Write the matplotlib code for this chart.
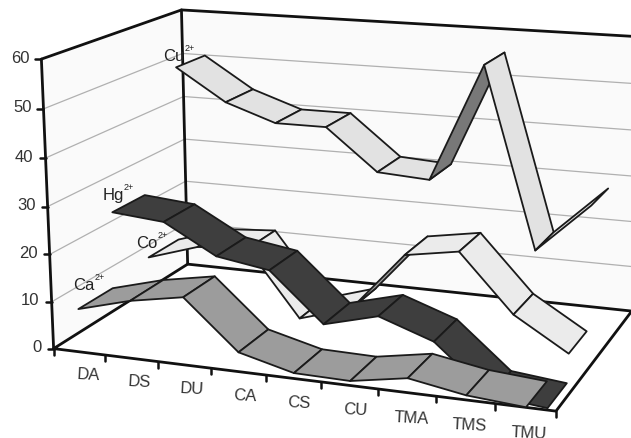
import numpy as np
import matplotlib
matplotlib.use('Agg')
import matplotlib.pyplot as plt
from matplotlib.patches import Polygon

plt.rcParams['font.family'] = ['Liberation Sans', 'DejaVu Sans']

categories = ['DA', 'DS', 'DU', 'CA', 'CS', 'CU', 'TMA', 'TMS', 'TMU']
z_ticks = [0, 10, 20, 30, 40, 50, 60]
ca = [9.0, 12.0, 14.0, 3.9, 1.0, 0.8, 2.8, 0.8, -0.1]
hg = [25.2, 24.2, 18.0, 16.2, 6.0, 9.0, 5.0, -4.8, -6.0]
co = [11.0, 14.5, 15.3, 1.0, 4.5, 17.3, 19.2, 7.0, 0.0]
cu = [50.0, 43.0, 39.2, 39.2, 30.2, 29.5, 55.0, 16.2, 27.0]

series = [
    ('Cu', cu, 3, '#e2e2e2', '#787878', (-28, -5)),
    ('Co', co, 2, '#ebebeb', '#a0a0a0', (-28, -5)),
    ('Hg', hg, 1, '#3e3e3e', '#2a2a2a', (-27, -8)),
    ('Ca', ca, 0, '#9c9c9c', '#707070', (-23, -13)),
]

# perspective camera of the chart box: box corners (category, depth, value) -> pixels
box_refs = [((0, 0, 0), (54, 349)), ((9, 0, 0), (556, 411)), ((0, 4, 0), (187, 264)),
            ((9, 4, 0), (632, 311)), ((0, 0, 60), (41, 59)), ((0, 4, 60), (182, 10)),
            ((9, 4, 60), (641, 37)), ((5, 0, 0), (321, 382)), ((0, 0, 30), (48, 206)),
            ((0, 0, 10), (52, 302)), ((0, 0, 50), (43, 109))]
A, b = [], []
for (x, y, z), (u, v) in box_refs:
    A.append([x, y, z, 1, 0, 0, 0, 0, -u*x, -u*y, -u*z]); b.append(u)
    A.append([0, 0, 0, 0, x, y, z, 1, -v*x, -v*y, -v*z]); b.append(v)
cam = np.append(np.linalg.lstsq(np.array(A, float), np.array(b, float), rcond=None)[0], 1).reshape(3, 4)


def pr(x, y, z):
    h = cam @ np.array([x, y, z, 1.0])
    return h[:2] / h[2]


fig = plt.figure(figsize=(6.31, 4.38), dpi=100)
ax = fig.add_axes([0, 0, 1, 1])
ax.set_xlim(0, 631)
ax.set_ylim(438, 0)
ax.axis('off')

nx, ny, zt = len(categories), 4, z_ticks[-1]
ink = '#111111'
txt = '#333333'

# walls
ax.add_patch(Polygon([pr(0, 0, 0), pr(0, ny, 0), pr(0, ny, zt), pr(0, 0, zt)], fc='#fafafa', ec='none', zorder=1))
ax.add_patch(Polygon([pr(0, ny, 0), pr(nx, ny, 0), pr(nx, ny, zt), pr(0, ny, zt)], fc='#fafafa', ec='none', zorder=1))


def line(pts, **kw):
    p = np.array(pts)
    ax.plot(p[:, 0], p[:, 1], solid_capstyle='round', **kw)


# gridlines
for z in z_ticks[1:-1]:
    line([pr(0, 0, z), pr(0, ny, z), pr(nx, ny, z)], color='#b0b0b0', lw=0.9, zorder=2)

# box edges
for pts in ([pr(0, 0, zt), pr(0, ny, zt), pr(nx, ny, zt)], [pr(0, 0, 0), pr(0, 0, zt)], [pr(0, ny, 0), pr(0, ny, zt)],
            [pr(0, 0, 0), pr(nx, 0, 0), pr(nx, ny, 0), pr(0, ny, 0), pr(0, 0, 0)]):
    line(pts, color=ink, lw=2.0, zorder=3)

# value axis ticks and labels
for z in z_ticks:
    p = pr(0, 0, z)
    line([p, p + (-6, 0)], color=ink, lw=1.8, zorder=3)
    ax.text(p[0] - 12, p[1] - 1, str(z), ha='right', va='center', fontsize=12, color=txt)

# category ticks and labels
for i in range(nx + 1):
    p = pr(i, 0, 0)
    line([p, p + (0, 6)], color=ink, lw=1.8, zorder=3)
for i, c in enumerate(categories):
    p = pr(i + 0.5, 0, 0)
    ax.text(p[0] + 9 - 0.75 * i, p[1] + 23 + 0.4 * i, c, ha='center', va='center', fontsize=12, color=txt, rotation=-3)

# ribbons
near, far = 0.02, 0.96
for zo, (name, vals, k, top, under, off) in enumerate(series):
    for i in range(len(vals) - 1):
        poly = np.array([pr(i + .5, k + near, vals[i]), pr(i + 1.5, k + near, vals[i + 1]),
                         pr(i + 1.5, k + far, vals[i + 1]), pr(i + .5, k + far, vals[i])])
        xs, ys = poly[:, 0], poly[:, 1]
        area = np.dot(xs, np.roll(ys, -1)) - np.dot(ys, np.roll(xs, -1))
        ax.add_patch(Polygon(poly, fc=top if area < 0 else under, ec='#1a1a1a', lw=1.3,
                             joinstyle='round', zorder=10 + zo))
    p = pr(0.5, k + 0.5, vals[0])
    t = ax.text(p[0] + off[0], p[1] + off[1], name, ha='left', va='center', fontsize=12, color='#222222', zorder=30)
    ax.annotate('2+', xy=(1, 0.72), xycoords=t, ha='left', va='bottom', fontsize=6.5, color='#222222', zorder=30)

fig.savefig('out.png', dpi=100)
